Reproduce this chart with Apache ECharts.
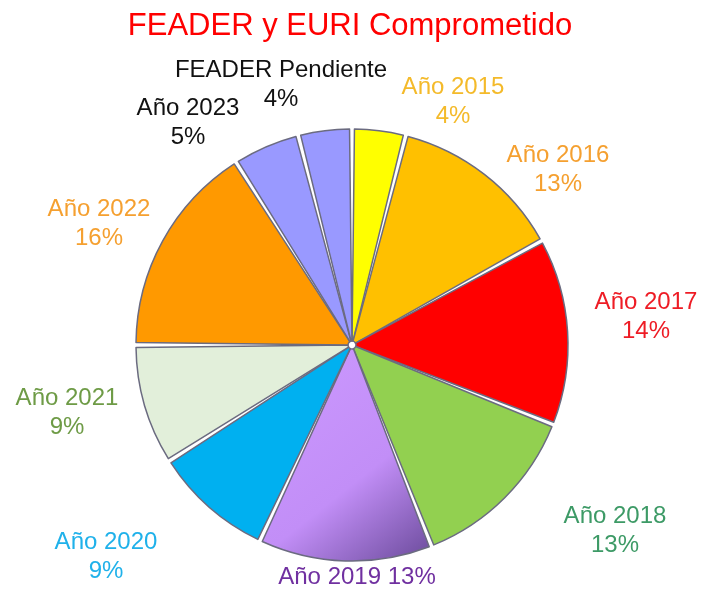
<!DOCTYPE html>
<html>
<head>
<meta charset="utf-8">
<title>FEADER y EURI Comprometido</title>
<script src="https://cdn.jsdelivr.net/npm/echarts@6/dist/echarts.min.js"></script>
<style>
  html, body { margin: 0; padding: 0; width: 100%; height: 100%; background: #fff; }
  #chart { width: 703px; height: 592px; }
</style>
</head>
<body>
<div id="chart"></div>
<script>
// datos
const categorias = ['Año 2015', 'Año 2016', 'Año 2017', 'Año 2018', 'Año 2019', 'Año 2020', 'Año 2021', 'Año 2022', 'Año 2023', 'FEADER Pendiente'];
const porcentajes = [4, 13, 14, 13, 13, 9, 9, 16, 5, 4];
const coloresSector = ['#FFFF00', '#FFC000', '#FF0000', '#92D050', '#CC99FF', '#00B0F0', '#E2EFDA', '#FF9900', '#9999FF', '#9999FF'];
const coloresTexto = ['#F4BA2A', '#F5A030', '#EE1C25', '#3D9A66', '#7030A0', '#1FB1EA', '#6E9B46', '#F5A030', '#111111', '#111111'];

// posición (centro) de cada etiqueta, como en el original
const posEtiquetas = {
  'Año 2015': [453, 102],
  'Año 2016': [558, 170],
  'Año 2017': [646, 317],
  'Año 2018': [615, 531],
  'Año 2019': [357, 577],
  'Año 2020': [106, 557],
  'Año 2021': [67, 413],
  'Año 2022': [99, 224],
  'Año 2023': [188, 123],
  'FEADER Pendiente': [281, 85]
};

const chart = echarts.init(document.getElementById('chart'), null, { renderer: 'canvas' });

const datos = categorias.map((nombre, i) => {
  let color = coloresSector[i];
  if (nombre === 'Año 2019') {
    color = new echarts.graphic.LinearGradient(0, 0, 1, 1, [
      { offset: 0, color: '#CC99FF' },
      { offset: 0.6, color: '#C28EF7' },
      { offset: 1, color: '#6A4A9A' }
    ]);
  }
  return {
    name: nombre,
    value: porcentajes[i],
    itemStyle: { color: color },
    label: { color: coloresTexto[i] }
  };
});

chart.setOption({
  backgroundColor: '#fff',
  title: {
    text: 'FEADER y EURI Comprometido',
    left: 345,
    textAlign: 'center',
    top: 6,
    textStyle: {
      color: '#FF0000',
      fontFamily: 'Liberation Sans',
      fontSize: 31,
      fontWeight: 'normal'
    }
  },
  series: [{
    type: 'pie',
    center: [352, 345],
    radius: [4, 216],
    startAngle: 90,
    clockwise: true,
    padAngle: 1.3,
    animation: false,
    data: datos,
    itemStyle: {
      borderColor: '#6b6b80',
      borderWidth: 1.5
    },
    label: {
      show: true,
      position: 'outside',
      overflow: 'none',
      edgeDistance: 0,
      bleedMargin: 0,
      fontFamily: 'Liberation Sans',
      fontSize: 24,
      lineHeight: 29,
      formatter: (p) => p.name === 'Año 2019'
        ? `${p.name} ${p.value}%`
        : `${p.name}\n${p.value}%`
    },
    labelLine: { show: false },
    labelLayout: (p) => {
      const pos = posEtiquetas[categorias[p.dataIndex]];
      return { x: pos[0], y: pos[1], align: 'center', verticalAlign: 'middle' };
    }
  }]
});
</script>
</body>
</html>
